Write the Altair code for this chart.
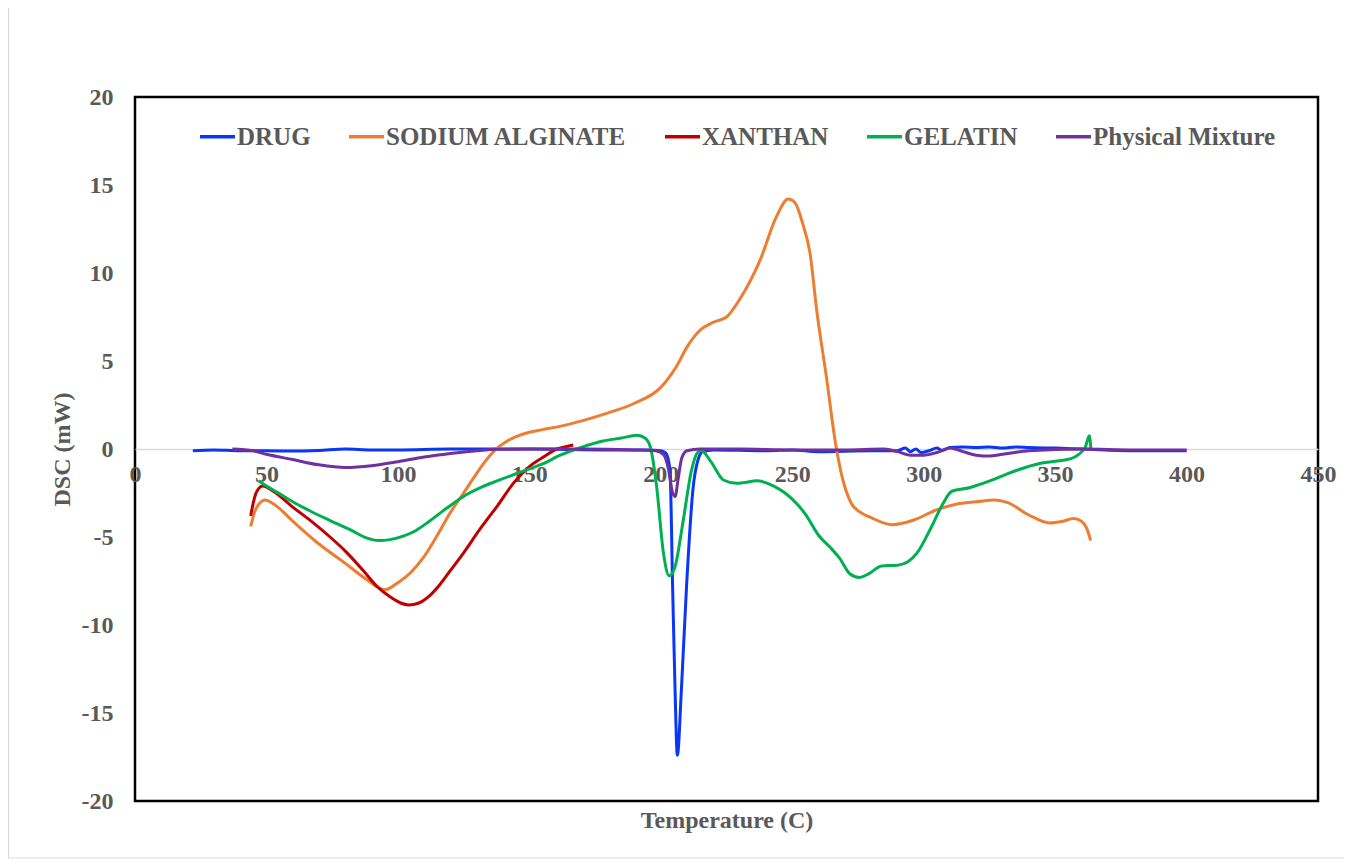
import altair as alt
import pandas as pd

series_names = ["DRUG", "SODIUM ALGINATE", "XANTHAN", "GELATIN", "Physical Mixture"]
series_colors = ["#0A36F5", "#ED7D31", "#C00000", "#00B050", "#7030A0"]

drug_T = [22, 30, 40, 50, 60, 70, 80, 90, 100, 120, 150, 180, 195, 200, 202, 203.5, 204.5, 205.4,
          206.3, 207.9, 209.8, 212.3, 214, 216, 220, 240, 250, 260, 280, 290, 293, 295, 297, 299,
          302, 305, 307, 310, 315, 320, 325, 330, 335, 340, 350, 360, 380, 400]
drug_v = [-0.1, -0.05, -0.1, -0.1, -0.12, -0.08, 0.0, -0.05, -0.05, 0.0, 0.0, -0.05, -0.05, -0.1,
          -0.25, -1.2, -7.8, -13.5, -17.4, -13.5, -7.8, -2.2, -0.7, -0.15, -0.05, -0.1, -0.05, -0.15,
          -0.1, -0.1, 0.05, -0.15, 0.0, -0.2, -0.1, 0.05, -0.08, 0.08, 0.12, 0.08, 0.12, 0.05, 0.12,
          0.08, 0.05, 0.0, -0.1, -0.1]

alg_T = [44, 46, 49.5, 53, 60, 70, 80, 88, 95, 100, 105, 110, 115, 120, 125, 129, 133, 137, 141,
         145, 150, 155, 162, 170, 180, 190, 200, 206, 210, 215, 220, 225, 230, 237.7, 244, 248.5,
         251, 254, 256.8, 259.3, 263, 266.5, 269, 272.5, 276, 280, 288, 296, 305, 312, 320, 327,
         332, 340, 348, 353, 357, 360, 362, 363.5]
alg_v = [-4.4, -3.4, -2.9, -3.15, -4.1, -5.4, -6.5, -7.4, -8.0, -7.6, -7.0, -6.1, -4.9, -3.6,
         -2.5, -1.6, -0.75, -0.05, 0.4, 0.7, 0.95, 1.1, 1.3, 1.6, 2.05, 2.6, 3.5, 4.7, 5.8, 6.76,
         7.2, 7.5, 8.5, 10.7, 13.2, 14.2, 14.0, 12.8, 11.1, 7.9, 4.1, 0.3, -1.6, -3.1, -3.6, -3.9,
         -4.3, -4.05, -3.45, -3.15, -3.0, -2.9, -3.05, -3.75, -4.2, -4.1, -3.95, -4.1, -4.5, -5.2]

xan_T = [44, 45.6, 47, 48.6, 52.6, 60, 67, 74.2, 80, 86.8, 92, 97, 101, 104, 108, 112, 116, 120,
         125, 131, 138, 143.9, 150, 156, 160.4, 163, 166.7]
xan_v = [-3.8, -2.7, -2.25, -2.1, -2.4, -3.3, -4.1, -5.0, -5.8, -6.9, -7.8, -8.4, -8.75, -8.86,
         -8.75, -8.35, -7.7, -6.9, -5.9, -4.6, -3.2, -1.95, -1.0, -0.4, 0.0, 0.1, 0.23]

gel_T = [47, 50, 54, 60, 67, 74, 82, 88, 92.6, 97, 102, 106, 112, 118.5, 126, 132, 138, 145, 155,
         162, 170, 178, 185, 191, 194, 196, 198.4, 201, 203.2, 205.4, 208.6, 211.7, 214, 215.5,
         219, 223.8, 228.9, 232, 236.5, 242.8, 250, 255, 260, 264.5, 268, 272, 275.5, 279, 284,
         290, 294, 297.5, 302.7, 307, 310.7, 317.4, 325.4, 332, 338.7, 345, 350, 356, 359, 361.5,
         363, 363.6]
gel_v = [-1.8, -2.1, -2.45, -3.0, -3.55, -4.05, -4.6, -5.05, -5.2, -5.15, -4.95, -4.7, -4.1, -3.37,
         -2.6, -2.15, -1.8, -1.4, -0.85, -0.34, 0.1, 0.45, 0.62, 0.78, 0.62, 0.13, -2.1, -5.9, -7.2,
         -6.7, -4.0, -1.2, -0.2, -0.1, -0.7, -1.76, -1.95, -1.9, -1.8, -2.1, -2.85, -3.7, -4.9,
         -5.6, -6.2, -7.1, -7.3, -7.1, -6.65, -6.6, -6.4, -5.9, -4.5, -3.2, -2.4, -2.2, -1.8, -1.4,
         -1.05, -0.8, -0.7, -0.55, -0.3, 0.1, 0.75, 0.0]

pm_T = [37, 45, 50, 60, 70, 80, 90, 100, 110, 120, 130, 138, 150, 170, 190, 198, 201, 203, 204.5,
        205.5, 206.5, 208, 210, 215, 230, 250, 270, 285, 290, 295, 300, 305, 310, 315, 320, 325,
        330, 340, 360, 380, 400]
pm_v = [0.0, -0.1, -0.3, -0.6, -0.9, -1.05, -0.95, -0.72, -0.45, -0.25, -0.1, -0.02, 0.0, 0.0,
        -0.05, -0.1, -0.3, -1.2, -2.5, -2.7, -1.8, -0.5, -0.1, 0.0, 0.0, -0.05, -0.05, 0.0, -0.15,
        -0.35, -0.35, -0.2, 0.05, -0.15, -0.35, -0.4, -0.3, -0.1, 0.0, -0.05, -0.05]

x_ticks = [0, 50, 100, 150, 200, 250, 300, 350, 400, 450]
y_ticks = [-20, -15, -10, -5, 0, 5, 10, 15, 20]

rows = []
for name, ts, vs in zip(series_names,
                        [drug_T, alg_T, xan_T, gel_T, pm_T],
                        [drug_v, alg_v, xan_v, gel_v, pm_v]):
    for t, v in zip(ts, vs):
        rows.append({"series": name, "T": t, "DSC": v})
df = pd.DataFrame(rows)

FONT = "Liberation Serif"
GRAY = "#595959"
W, H = 1183, 704

lines = alt.Chart(df).mark_line(strokeWidth=3, interpolate="monotone").encode(
    x=alt.X("T:Q",
            scale=alt.Scale(domain=[0, 450], nice=False, zero=False),
            axis=alt.Axis(values=x_ticks, title="Temperature (C)", offset=-H / 2,
                          ticks=False, grid=False, domainColor="#d9d9d9", domainWidth=1.5,
                          labelPadding=13, labelFlush=False, labelOverlap=False,
                          titleY=H / 2 + 19, titleX=W / 2, titleBaseline="middle")),
    y=alt.Y("DSC:Q",
            scale=alt.Scale(domain=[-20, 20], nice=False),
            axis=alt.Axis(values=y_ticks, title="DSC (mW)", ticks=False, grid=False,
                          domain=False, labelPadding=22, titleX=-73, titleY=H / 2,
                          labelExpr="'' + datum.value",
                          titleAngle=270, titleAlign="center", titleBaseline="middle")),
    color=alt.Color("series:N",
                    scale=alt.Scale(domain=series_names, range=series_colors),
                    legend=alt.Legend(title=None, orient="none", legendX=63, legendY=20,
                                      direction="horizontal", symbolType="stroke",
                                      symbolStrokeWidth=3.5, symbolSize=1225,
                                      columnPadding=31, labelOffset=0, labelLimit=600,
                                      padding=0)),
    detail="series:N",
)

border = alt.Chart(pd.DataFrame({"k": [0]})).mark_rect(
    fill=None, stroke="#d9d9d9", strokeWidth=1.2, clip=False
).encode(x=alt.value(-126.5), x2=alt.value(1213.5), y=alt.value(-89.5), y2=alt.value(761))

chart = alt.layer(border, lines).properties(
    width=W, height=H,
    autosize=alt.AutoSizeParams(type="none"),
    padding={"left": 127, "top": 89, "right": 26, "bottom": 58},
).configure_view(
    stroke="black", strokeWidth=2.5
).configure_axis(
    labelFont=FONT, labelFontSize=24, labelFontWeight="bold", labelColor=GRAY,
    titleFont=FONT, titleFontSize=24, titleFontWeight="bold", titleColor=GRAY,
).configure_legend(
    labelFont=FONT, labelFontSize=25, labelFontWeight="bold", labelColor=GRAY,
)

chart.save("out.html", embed_options={"renderer": "svg", "actions": False})
